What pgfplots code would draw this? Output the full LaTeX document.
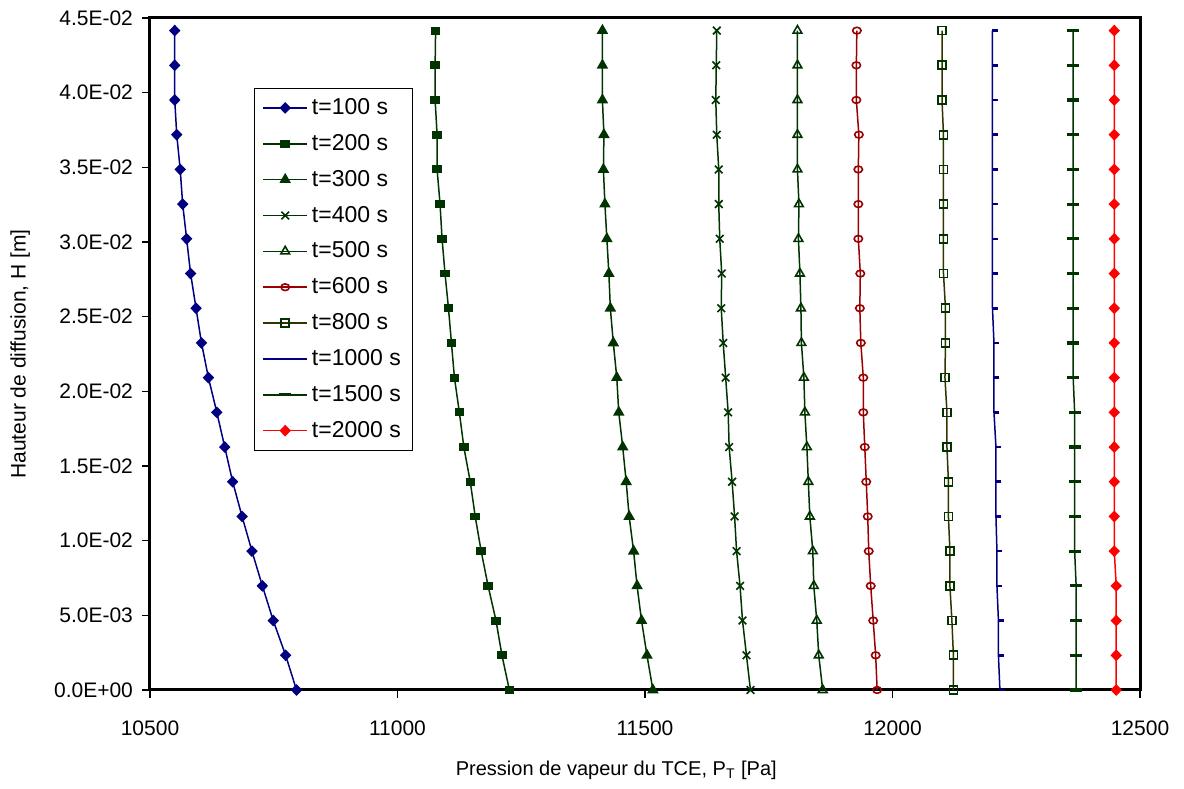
\documentclass[border=0pt]{standalone}
\usepackage{fontspec}
\setmainfont{Liberation Sans}
\usepackage{pgfplots}
\usepackage{pgfplotstable}
\pgfplotsset{compat=1.18}
\definecolor{cnavy}{HTML}{000080}
\definecolor{cdg}{HTML}{003300}
\definecolor{cdr}{HTML}{990000}
\definecolor{colive}{HTML}{333300}
\definecolor{cred}{HTML}{FF0000}

\pgfplotstableread{
y        t100  t200  t300  t400  t500  t600  t800  t1000 t1500 t2000
0        10796 11226 11516 11713 11859 11969 12123 12217 12371 12452
0.002324 10774 11211 11504 11705 11851 11966 12123 12214 12371 12452
0.004648 10749 11199 11493 11697 11847 11961 12120 12214 12371 12452
0.006972 10727 11183 11484 11692 11841 11956 12116 12211 12371 12452
0.009296 10706 11169 11477 11685 11839 11952 12116 12211 12368 12448
0.011620 10686 11157 11468 11681 11833 11950 12113 12209 12368 12448
0.013944 10667 11147 11462 11676 11830 11947 12113 12209 12368 12448
0.016268 10651 11134 11455 11670 11827 11944 12110 12209 12368 12448
0.018592 10635 11125 11447 11668 11823 11941 12110 12205 12368 12448
0.020916 10618 11115 11443 11663 11821 11941 12106 12205 12365 12448
0.023240 10604 11109 11436 11658 11816 11936 12107 12205 12365 12448
0.025564 10593 11103 11430 11654 11815 11934 12107 12202 12365 12448
0.027888 10582 11096 11427 11655 11813 11935 12103 12202 12365 12448
0.030212 10574 11090 11423 11651 11810 11931 12103 12202 12365 12448
0.032536 10566 11086 11419 11649 11811 11931 12103 12202 12365 12448
0.034860 10561 11080 11416 11649 11808 11931 12103 12202 12365 12448
0.037184 10554 11080 11417 11645 11808 11932 12103 12202 12365 12448
0.039508 10550 11076 11414 11643 11808 11927 12100 12202 12365 12448
0.041832 10550 11076 11414 11644 11808 11927 12100 12202 12365 12448
0.044156 10550 11077 11414 11645 11808 11928 12100 12202 12365 12448
}\datatable

\begin{document}
\begin{tikzpicture}
\begin{axis}[
  name=ax,
  scale only axis,
  width=495pt, height=336pt,
  xmin=10500, xmax=12500,
  ymin=0, ymax=0.045,
  clip=false,
  font=\fontsize{10.5}{12.6}\selectfont,
  axis line style={line width=1.5pt, black},
  tick align=outside,
  major tick length=4pt,
  tick style={line width=0.6pt, black},
  xtick pos=bottom, ytick pos=left,
  scaled ticks=false,
  xtick={10500,11000,11500,12000,12500},
  xticklabels={10500,11000,11500,12000,12500},
  ytick={0,0.005,0.01,0.015,0.02,0.025,0.03,0.035,0.04,0.045},
  yticklabels={0.0E+00,5.0E-03,1.0E-02,1.5E-02,2.0E-02,2.5E-02,3.0E-02,3.5E-02,4.0E-02,4.5E-02},
  xticklabel style={yshift=-8pt},
  yticklabel style={xshift=-1pt},
  xlabel={Pression de vapeur du TCE, P\textsubscript{T} [Pa]},
  ylabel={Hauteur de diffusion, H [m]},
  xlabel style={at={(axis description cs:0.471,-0.119)}, anchor=center, font=\fontsize{10}{12}\selectfont},
  ylabel style={at={(axis description cs:-0.131,0.5)}, anchor=center},
  legend style={at={(axis description cs:0.105,0.896)}, anchor=north west,
    draw=black, line width=0.5pt, font=\fontsize{11.5}{13.8}\selectfont,
    inner xsep=4pt, inner ysep=3pt, row sep=4.4pt},
  legend cell align=left,
  legend image code/.code={\draw[mark repeat=2,mark phase=2,#1] plot coordinates {(0pt,0pt) (11pt,0pt) (22pt,0pt)};},
  every axis plot/.append style={line width=0.75pt},
]
\addplot[cnavy, mark=diamond*, mark size=2.4pt, mark options={xscale=1.3, solid}] table[x=t100,y=y]{\datatable};
\addlegendentry{t=100 s}
\addplot[cdg, mark=square*, mark size=2pt, mark options={yscale=0.8}] table[x=t200,y=y]{\datatable};
\addlegendentry{t=200 s}
\addplot[cdg, mark=triangle*, mark size=2.6pt] table[x=t300,y=y]{\datatable};
\addlegendentry{t=300 s}
\addplot[cdg, mark=x, mark size=2.7pt, mark options={line width=0.8pt}] table[x=t400,y=y]{\datatable};
\addlegendentry{t=400 s}
\addplot[cdg, mark=triangle, mark size=2.5pt, mark options={fill=white, line width=0.8pt}] table[x=t500,y=y]{\datatable};
\addlegendentry{t=500 s}
\addplot[cdr, mark=o, mark size=2.1pt, mark options={yscale=0.8, fill=white, line width=0.8pt}] table[x=t600,y=y]{\datatable};
\addlegendentry{t=600 s}
\addplot[colive, mark=square, mark size=2pt, mark options={draw=cdg, fill=white, line width=0.8pt}] table[x=t800,y=y]{\datatable};
\addlegendentry{t=800 s}
\addplot[cnavy, mark=-, mark size=1.4pt, mark options={xshift=1.3pt, line width=1.3pt}] table[x=t1000,y=y]{\datatable};
\addlegendentry{t=1000 s}
\addplot[cdg, mark=-, mark size=3pt, mark options={line width=1.6pt}] table[x=t1500,y=y]{\datatable};
\addlegendentry{t=1500 s}
\addplot[cred, mark=diamond*, mark size=2.4pt, mark options={xscale=1.3}] table[x=t2000,y=y]{\datatable};
\addlegendentry{t=2000 s}
\end{axis}
\path (ax.south west) ++(-75pt,-49.5pt) coordinate (bb1);
\path (ax.north east) ++(22pt,9pt) coordinate (bb2);
\path[use as bounding box] (bb1) rectangle (bb2);
\end{tikzpicture}
\end{document}
